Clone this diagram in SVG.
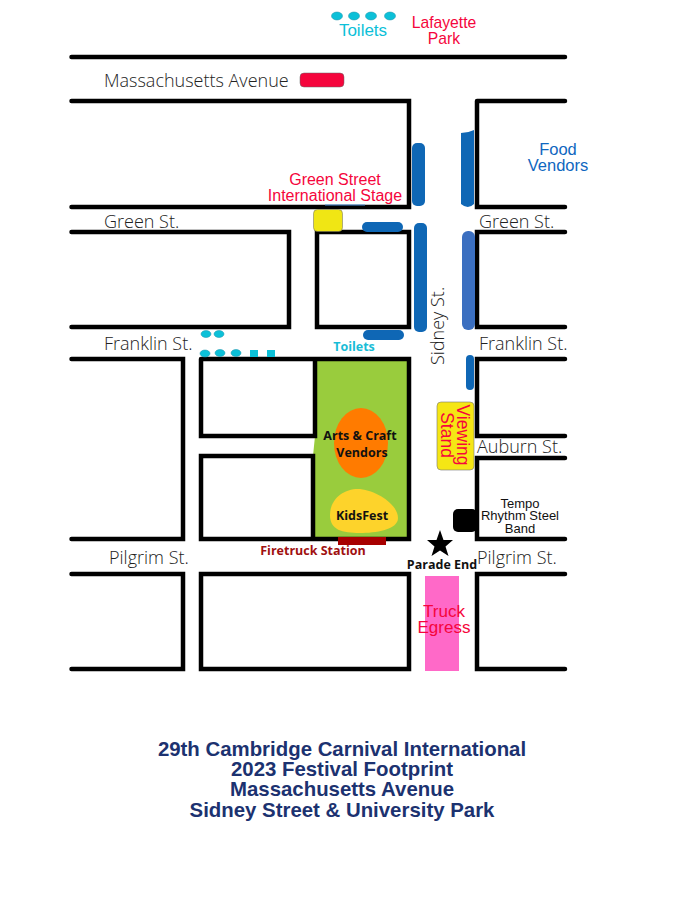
<svg xmlns="http://www.w3.org/2000/svg" width="693" height="897" viewBox="0 0 693 897">
<style>
.st{fill:none;stroke:#000;stroke-width:4.500;stroke-linecap:round;stroke-linejoin:miter}
.bl{fill:#0f67b5}
.t{fill:#0cc0d8;stroke:#1591a8;stroke-width:.5}
.o{font-family:"Open Sans",sans-serif;font-weight:300;fill:#222;font-size:18px}
.a{font-family:"Liberation Sans",Arial,sans-serif}
.b{font-family:"Open Sans",sans-serif;font-weight:700;font-size:12.500px;text-anchor:middle}
.r{fill:#f5053c;text-anchor:middle}
.h{font-family:"Liberation Sans",Arial,sans-serif;font-weight:700;fill:#1c3270;font-size:20.400px;text-anchor:middle}
</style>
<rect width="693" height="897" fill="#fff"/>
<g id="park"><path d="M315 359H409V539H313V456L315 436Z" fill="#99cc3d"/></g>
<g id="streets">
<path class="st" d="M71.500 57H565M71.500 101H409V207H71.500M477 101H565M477 101V207H565M71.500 232H289V327H71.500M317 232H409V327H317ZM565 232H477V327H565M71.500 359H183V539H71.500M71.500 574H183V669H71.500M201 359H409V539H201V456H313V539M201 359V436H315V359M201 574H409V669H201ZM565 359H477V436H565M565 458H477V539H565M565 574H477V669H565"/>
<path d="M325 205H365" stroke="#4a90d9" stroke-width="1" fill="none"/>
</g>
<g id="food-vendors">
<rect class="bl" x="412" y="143" width="13" height="63" rx="5"/>
<path class="bl" d="M461 133Q468 133 474 130V204Q468 210 461 204Z"/>
<rect class="bl" x="362" y="222" width="41" height="10" rx="5"/>
<rect class="bl" x="414" y="223" width="13" height="109" rx="5"/>
<rect x="462" y="231" width="13" height="99" rx="6" fill="#3b6fc0"/>
<rect class="bl" x="363" y="330" width="41" height="10" rx="5"/>
<rect class="bl" x="466" y="355" width="8" height="35" rx="4"/>
<text class="a" x="558" y="155" font-size="16.500" fill="#0f67c0" text-anchor="middle">Food</text>
<text class="a" x="558" y="171" font-size="16.500" fill="#0f67c0" text-anchor="middle">Vendors</text>
</g>
<g id="toilets-top">
<ellipse class="t" cx="337" cy="16" rx="5.500" ry="4"/><ellipse class="t" cx="354" cy="16" rx="5.500" ry="4"/><ellipse class="t" cx="371" cy="16" rx="5.500" ry="4"/><ellipse class="t" cx="390" cy="16" rx="5.500" ry="4"/>
<text class="a" x="363" y="36" font-size="17" fill="#0cc0d8" text-anchor="middle">Toilets</text>
</g>
<g id="lafayette"><text class="a r" x="444" y="28" font-size="15.700">Lafayette</text><text class="a r" x="444" y="44" font-size="15.700">Park</text></g>
<g id="mass-ave">
<text class="o" x="104" y="87">Massachusetts Avenue</text>
<rect x="300" y="73" width="44" height="14" rx="4" fill="#f5053c" stroke="#666" stroke-width=".5"/>
</g>
<g id="green-stage">
<text class="a r" x="335" y="185" font-size="16">Green Street</text><text class="a r" x="335" y="201" font-size="16">International Stage</text>
<rect x="313.500" y="209.500" width="29" height="22" rx="4" fill="#f0e614" stroke="#666" stroke-width=".5"/>
</g>
<g id="labels">
<text class="o" x="104" y="228">Green St.</text>
<text class="o" x="479" y="228">Green St.</text>
<text class="o" x="104" y="350">Franklin St.</text>
<text class="o" x="479" y="350">Franklin St.</text>
<text class="o" x="477" y="453">Auburn St.</text>
<text class="o" x="109" y="564">Pilgrim St.</text>
<text class="o" x="477" y="564">Pilgrim St.</text>
<text class="o" transform="translate(444 365) rotate(-90)">Sidney St.</text>
</g>
<g id="toilets-franklin">
<ellipse class="t" cx="206" cy="334" rx="5" ry="3.500"/><ellipse class="t" cx="219" cy="334" rx="5" ry="3.500"/>
<ellipse class="t" cx="205" cy="353.500" rx="5" ry="3.500"/><ellipse class="t" cx="220" cy="353" rx="5" ry="3.500"/><ellipse class="t" cx="236" cy="353" rx="5" ry="3.500"/>
<rect x="250" y="350" width="8" height="7" fill="#0cc0d8"/><rect x="267" y="350" width="8" height="7" fill="#0cc0d8"/>
<text class="b" x="354" y="351" fill="#19bcd6">Toilets</text>
</g>
<g id="arts-craft">
<ellipse cx="361" cy="443" rx="27" ry="35" fill="#ff7b00"/>
<text class="b" x="360" y="440" fill="#111">Arts &amp; Craft</text>
<text class="b" x="362" y="457" fill="#111">Vendors</text>
</g>
<g id="kidsfest">
<path d="M330 515C330 498 345 488 360 489C378 491 398 505 398 518C398 530 375 533 360 533C342 533 330 530 330 515Z" fill="#fdd32b"/>
<text class="b" x="362" y="520" fill="#111">KidsFest</text>
</g>
<g id="firetruck"><rect x="338" y="537" width="48" height="8" fill="#a80000"/>
<text class="b" x="313" y="555" fill="#a01010">Firetruck Station</text></g>
<g id="viewing-stand">
<rect x="437" y="402" width="37" height="68" rx="4" fill="#f5e614" stroke="#777" stroke-width=".6"/>
<text class="a" transform="translate(457 435) rotate(90)" font-size="17.500" fill="#f5053c" text-anchor="middle">Viewing</text>
<text class="a" transform="translate(441 435) rotate(90)" font-size="17.500" fill="#f5053c" text-anchor="middle">Stand</text>
</g>
<g id="tempo">
<rect x="453" y="509" width="24" height="23" rx="5" fill="#000"/>
<text class="a" x="520" y="508" font-size="13" fill="#111" text-anchor="middle">Tempo</text>
<text class="a" x="520" y="520" font-size="13" fill="#111" text-anchor="middle">Rhythm Steel</text>
<text class="a" x="520" y="533" font-size="13" fill="#111" text-anchor="middle">Band</text>
</g>
<g id="parade-end">
<polygon points="440,530 443.500,540 453,540 445.500,546.500 448.500,556 440,550.500 431.500,556 434.500,546.500 427,540 436.500,540" fill="#000"/>
<text class="b" x="442" y="569" fill="#111">Parade End</text>
</g>
<g id="truck-egress">
<rect x="425" y="576" width="34" height="95" fill="#ff69c8"/>
<text class="a" x="444" y="617" font-size="17" fill="#f5053c" text-anchor="middle">Truck</text>
<text class="a" x="444" y="633" font-size="17" fill="#f5053c" text-anchor="middle">Egress</text>
</g>
<g id="title">
<text class="h" x="342" y="756">29th Cambridge Carnival International</text>
<text class="h" x="342" y="776">2023 Festival Footprint</text>
<text class="h" x="342" y="796">Massachusetts Avenue</text>
<text class="h" x="342" y="817">Sidney Street &amp; University Park</text>
</g>
</svg>
